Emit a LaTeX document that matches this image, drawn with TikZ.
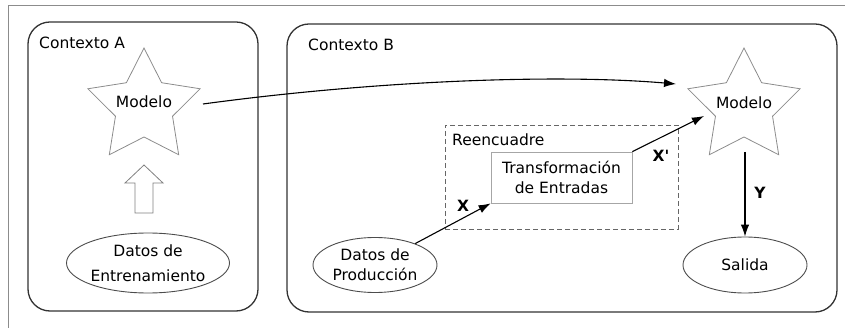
\documentclass[tikz,border=0pt]{standalone}
\usepackage{fontspec}
\setmainfont{DejaVu Sans}
\setmonofont{DejaVu Sans}
\usetikzlibrary{shapes.geometric,arrows.meta,calc}
\begin{document}
\begin{tikzpicture}[x=1pt,y=-1pt,
  txt/.style={font=\fontsize{15.5}{19}\selectfont, inner sep=0pt, align=center},
  ctxbox/.style={draw=black!80, line width=1.3pt, rounded corners=22pt, inner sep=0pt},
  starline/.style={draw=black!45, line width=0.8pt},
  ell/.style={ellipse, draw=black!70, line width=0.9pt, inner sep=0pt},
  conn/.style={draw=black, line width=1.1pt, -{Latex[length=12pt,width=8.5pt]}},
  bold/.style={font=\fontsize{15.5}{19}\selectfont\bfseries, inner sep=0pt}]
\useasboundingbox (0,0) rectangle (845,328);
% outer frame
\draw[black!45, line width=0.8pt] (8,330) -- (8,5) -- (847,5);
% context boxes
\node[ctxbox, minimum width=230pt, minimum height=289pt] (cA) at (143,166.5) {};
\node[ctxbox, minimum width=550pt, minimum height=288pt] (cB) at (562,168) {};
\node[txt, anchor=west] (lA) at (39,43) {Contexto A};
\node[txt, anchor=west] (lB) at (308,45) {Contexto B};
% stars
\coordinate (sA) at (144,107);
\coordinate (sB) at (744,107);
\foreach \c in {sA,sB}{
  \draw[starline] ($(\c)+(90:59pt)$)
    \foreach \i [evaluate=\i as \r using {isodd(\i) ? 30 : 59}] in {1,...,9}{ -- ($(\c)+({90+36*\i}:\r pt)$) } -- cycle;
}
\node[txt] (mA) at (144,102) {Modelo};
\node[txt] (mB) at (744,103) {Modelo};
% hollow arrow
\draw[black!50, line width=0.8pt] (135,213) -- (135,183) -- (125,183) -- (144,165) -- (163,183) -- (153,183) -- (153,213) -- cycle;
% ellipses
\node[ell, minimum width=163pt, minimum height=60pt, txt, font=\fontsize{15.5}{25}\selectfont] (de) at (148,263) {Datos de\\Entrenamiento};
\node[ell, minimum width=124pt, minimum height=55pt, txt, font=\fontsize{15.5}{20}\selectfont] (dp) at (375,265) {Datos de\\Producción};
\node[ell, minimum width=124pt, minimum height=56pt, txt] (sal) at (745,265) {Salida};
% reencuadre
\node[draw=black!60, dashed, dash pattern=on 5pt off 3pt, line width=0.8pt, minimum width=233pt, minimum height=104pt, inner sep=0pt] (re) at (561.5,177) {};
\node[txt, anchor=west] (reL) at (452,140) {Reencuadre};
\node[draw=black!35, line width=0.8pt, minimum width=141pt, minimum height=51pt, txt, font=\fontsize{15.5}{20}\selectfont] (tr) at (561.5,177.5) {Transformación\\de Entradas};
% connectors
\coordinate (aOut) at (203,104);
\coordinate (bIn) at (676,84);
\coordinate (bIn2) at (704,116);
\coordinate (bOut) at (745,152);
\draw[conn] (aOut) .. controls (380,80) and (560,74) .. (bIn);
\draw[conn] (dp) -- (tr.south west);
\draw[conn] (tr.north east) -- (bIn2);
\draw[conn] (bOut) -- (sal.north);
\node[bold] (lx) at (463,206) {X};
\node[bold, font=\fontsize{15.5}{19}\selectfont\ttfamily\bfseries] (lxp) at (661,156) {X'};
\node[bold] (ly) at (760,193) {Y};
\end{tikzpicture}
\end{document}
